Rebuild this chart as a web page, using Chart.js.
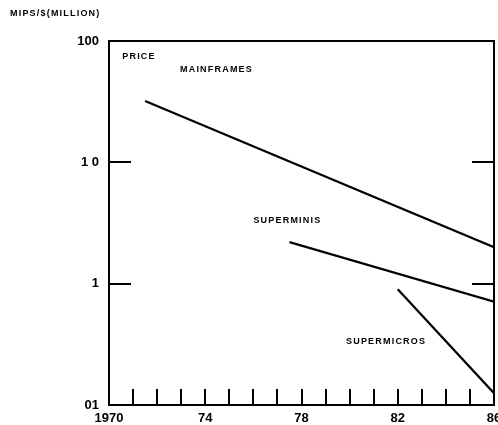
<!DOCTYPE html>
<html>
<head>
<meta charset="utf-8">
<script src="https://cdn.jsdelivr.net/npm/chart.js@4.4.1/dist/chart.umd.min.js"></script>
<style>
html, body { margin: 0; padding: 0; background: #fff; }
</style>
</head>
<body>
<canvas id="myChart" width="498" height="425"></canvas>
<script>
// values
var mainframeYears = [1971.5, 1986];
var mainframeValues = [32, 2.0];
var superminiYears = [1977.5, 1986];
var superminiValues = [2.2, 0.71];
var supermicroYears = [1982, 1986];
var supermicroValues = [0.9, 0.125];

var yTickValues = [0.1, 1, 10, 100];
var yTickLabels = ['01', '1', '1 0', '100'];
var xTickValues = [1970, 1974, 1978, 1982, 1986];
var xTickLabels = ['1970', '74', '78', '82', '86'];

var seriesNames = ['MAINFRAMES', 'SUPERMINIS', 'SUPERMICROS'];
var labelYears = [1972.95, 1976.0, 1979.85];
var labelValues = [58, 3.3, 0.335];

function pts(xs, ys) {
    return xs.map(function (x, i) { return { x: x, y: ys[i] }; });
}

var FONT = '"Liberation Sans", Arial, sans-serif';

// inner ticks, frame and the text labels
var extras = {
    id: 'extras',
    afterDraw: function (chart) {
        var c = chart.ctx, a = chart.chartArea;
        var xs = chart.scales.x, ys = chart.scales.y;
        c.save();
        c.strokeStyle = '#000';
        c.lineWidth = 2;
        c.strokeRect(a.left, a.top, a.right - a.left, a.bottom - a.top);
        // year ticks pointing up
        for (var yr = xs.min + 1; yr < xs.max; yr++) {
            var px = Math.round(xs.getPixelForValue(yr));
            c.beginPath();
            c.moveTo(px, a.bottom);
            c.lineTo(px, a.bottom - 16);
            c.stroke();
        }
        // decade ticks on both sides
        [1, 10].forEach(function (v) {
            var py = Math.round(ys.getPixelForValue(v));
            c.beginPath();
            c.moveTo(a.left, py); c.lineTo(a.left + 22, py);
            c.moveTo(a.right, py); c.lineTo(a.right - 22, py);
            c.stroke();
        });
        c.fillStyle = '#000';
        c.textBaseline = 'middle';
        c.textAlign = 'left';
        c.font = 'bold 9px ' + FONT;
        c.letterSpacing = '1.2px';
        c.fillText('MIPS/$(MILLION)', 10, 14);
        c.fillText('PRICE', xs.getPixelForValue(1970.55), ys.getPixelForValue(75));
        seriesNames.forEach(function (n, i) {
            c.fillText(n, xs.getPixelForValue(labelYears[i]), ys.getPixelForValue(labelValues[i]));
        });
        c.restore();
    }
};

var ctx = document.getElementById('myChart');

new Chart(ctx, {
    type: 'line',
    data: {
        datasets: [
            { label: seriesNames[0], data: pts(mainframeYears, mainframeValues) },
            { label: seriesNames[1], data: pts(superminiYears, superminiValues) },
            { label: seriesNames[2], data: pts(supermicroYears, supermicroValues) }
        ]
    },
    options: {
        responsive: false,
        animation: false,
        layout: { padding: { top: 41, right: 4, left: 0, bottom: 0 } },
        elements: {
            line: { borderColor: '#000', borderWidth: 2.2, tension: 0 },
            point: { radius: 0 }
        },
        plugins: {
            legend: { display: false },
            tooltip: { enabled: false }
        },
        scales: {
            x: {
                type: 'linear',
                min: 1970,
                max: 1986,
                grid: { display: false, tickLength: 0 },
                border: { display: false },
                afterBuildTicks: function (s) {
                    s.ticks = xTickValues.map(function (v) { return { value: v }; });
                },
                afterFit: function (s) {
                    s.height = 20;
                    s.paddingLeft = 0;
                    s.paddingRight = 0;
                },
                ticks: {
                    padding: 6,
                    maxRotation: 0,
                    color: '#000',
                    font: { family: FONT, size: 13, weight: 'bold' },
                    callback: function (v) {
                        var i = xTickValues.indexOf(v);
                        return i < 0 ? '' : xTickLabels[i];
                    }
                }
            },
            y: {
                type: 'logarithmic',
                min: 0.1,
                max: 100,
                grid: { display: false, tickLength: 0 },
                border: { display: false },
                afterBuildTicks: function (s) {
                    s.ticks = yTickValues.map(function (v) { return { value: v }; });
                },
                afterFit: function (s) {
                    s.width = 109;
                    s.paddingTop = 0;
                    s.paddingBottom = 0;
                },
                ticks: {
                    padding: 10,
                    color: '#000',
                    font: { family: FONT, size: 13, weight: 'bold' },
                    callback: function (v) {
                        var i = yTickValues.indexOf(v);
                        return i < 0 ? '' : yTickLabels[i];
                    }
                }
            }
        }
    },
    plugins: [extras]
});
</script>
</body>
</html>
